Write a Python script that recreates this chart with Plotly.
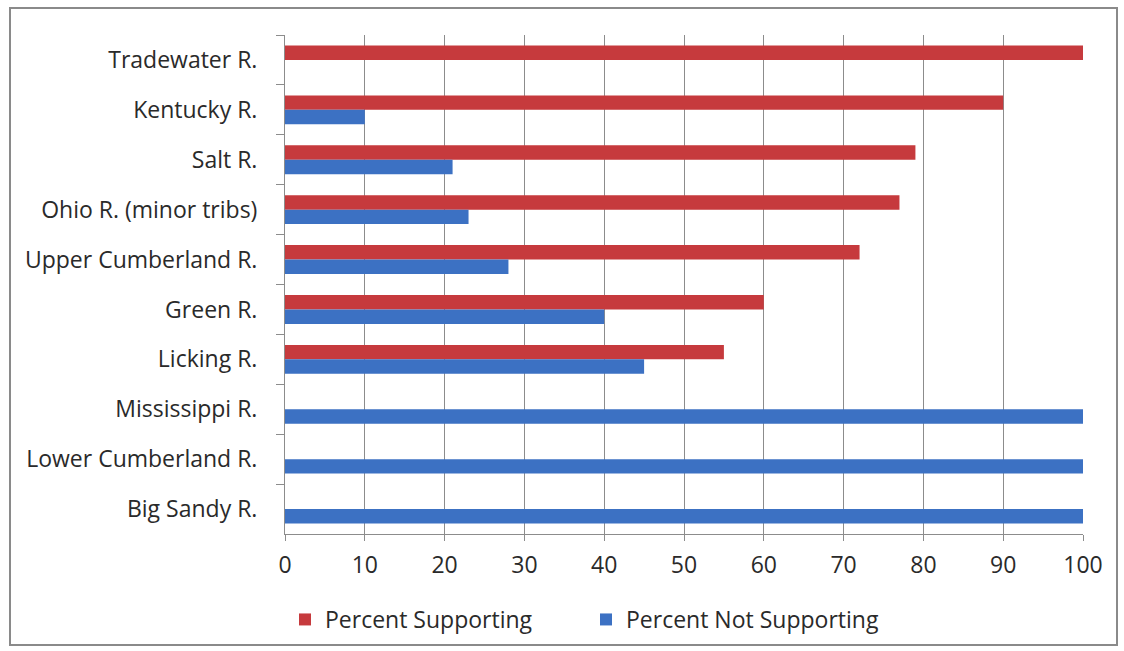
import plotly.graph_objects as go

# River basins, listed top to bottom
basins = [
    "Tradewater R.", "Kentucky R.", "Salt R.", "Ohio R. (minor tribs)",
    "Upper Cumberland R.", "Green R.", "Licking R.", "Mississippi R.",
    "Lower Cumberland R.", "Big Sandy R.",
]
pct_supporting = [100, 90, 79, 77, 72, 60, 55, 0, 0, 0]
pct_not_supporting = [0, 10, 21, 23, 28, 40, 45, 100, 100, 100]
x_ticks = [0, 10, 20, 30, 40, 50, 60, 70, 80, 90, 100]

RED = "#C63A3D"
BLUE = "#3C71C3"
FONT = "Open Sans"
TEXT = "#2A2A2A"
SIZE = 23

fig = go.Figure()
fig.add_trace(go.Bar(
    name="Percent Supporting", y=basins, x=pct_supporting,
    orientation="h", marker=dict(color=RED, line=dict(width=0)),
))
fig.add_trace(go.Bar(
    name="Percent Not Supporting", y=basins, x=pct_not_supporting,
    orientation="h", marker=dict(color=BLUE, line=dict(width=0)),
))

W, H = 1124, 651
L, R, T, B = 285, 41, 35, 117
pw, ph = W - L - R, H - T - B

def px_to_paper_x(px):
    return (px - L) / pw

def px_to_paper_y(py):
    return (H - B - py) / ph

fig.update_layout(
    width=W, height=H,
    margin=dict(l=L, r=R, t=T, b=B, autoexpand=False),
    paper_bgcolor="white", plot_bgcolor="white",
    barmode="group", bargap=0.42, bargroupgap=0,
    font=dict(family=FONT, size=SIZE, color=TEXT),
    showlegend=True,
    legend=dict(
        orientation="h", x=px_to_paper_x(285), xanchor="left",
        y=px_to_paper_y(598), yanchor="top",
        bgcolor="rgba(0,0,0,0)",
        font=dict(family=FONT, size=SIZE, color=TEXT),
        itemwidth=30, entrywidth=256, traceorder="normal",
    ),
    xaxis=dict(
        range=[0, 100], tickvals=x_ticks, ticktext=[str(v) for v in x_ticks],
        showgrid=True, gridcolor="#8C8C8C", gridwidth=1,
        showline=True, linecolor="#8C8C8C", linewidth=1,
        ticks="outside", ticklen=6, tickcolor="#8C8C8C",
        ticklabelstandoff=4,
        zeroline=False, fixedrange=True,
        tickfont=dict(family=FONT, size=SIZE, color=TEXT),
    ),
    yaxis=dict(
        autorange="reversed", type="category",
        showline=True, linecolor="#8C8C8C", linewidth=1,
        ticks="outside", ticklen=8, tickcolor="#8C8C8C",
        tickson="boundaries", showgrid=False,
        ticklabelstandoff=22,
        tickfont=dict(family=FONT, size=SIZE, color=TEXT),
    ),
    shapes=[dict(
        type="rect", xref="paper", yref="paper",
        x0=px_to_paper_x(10), x1=px_to_paper_x(1117),
        y0=px_to_paper_y(645), y1=px_to_paper_y(8),
        line=dict(color="#8A8A8A", width=2), fillcolor="rgba(0,0,0,0)",
        layer="below",
    )],
)

fig.write_html("out.html")
